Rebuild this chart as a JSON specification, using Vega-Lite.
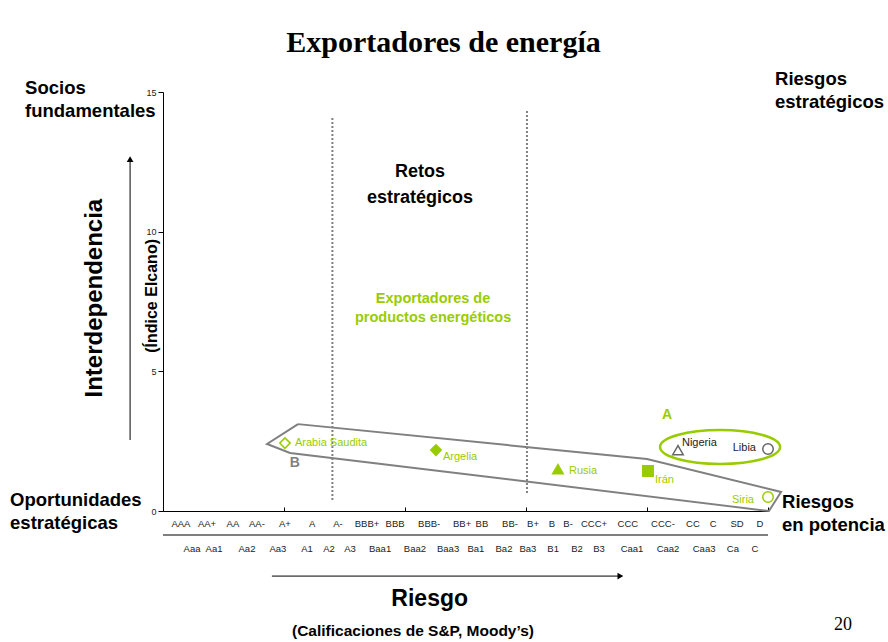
{
  "$schema": "https://vega.github.io/schema/vega-lite/v6.json",
  "width": 605,
  "height": 419,
  "autosize": {"type": "none"},
  "padding": {"left": 163, "top": 92, "right": 120, "bottom": 131},
  "background": "white",
  "title": {"text": "Exportadores de energía", "font": "Liberation Serif", "fontSize": 30, "fontWeight": "bold", "color": "#000000", "anchor": "middle", "dx": -22, "offset": 12},
  "config": {"view": {"stroke": null}, "font": "Liberation Sans"},
  "datasets": {
    "poligono": [
      {"orden": 1, "x": 5.58, "y": 3.11},
      {"orden": 2, "x": 20.0, "y": 1.86},
      {"orden": 3, "x": 25.54, "y": 0.68},
      {"orden": 4, "x": 25.04, "y": 0.0},
      {"orden": 5, "x": 5.25, "y": 2.08},
      {"orden": 6, "x": 4.3, "y": 2.4},
      {"orden": 7, "x": 5.58, "y": 3.11}
    ],
    "paises": [
      {"pais": "Arabia Saudita", "grupo": "B", "x": 5.04, "y": 2.43},
      {"pais": "Argelia", "grupo": "B", "x": 11.28, "y": 2.18},
      {"pais": "Rusia", "grupo": "B", "x": 16.32, "y": 1.5},
      {"pais": "Irán", "grupo": "B", "x": 20.04, "y": 1.43},
      {"pais": "Nigeria", "grupo": "A", "x": 21.28, "y": 2.18},
      {"pais": "Libia", "grupo": "A", "x": 25.0, "y": 2.22},
      {"pais": "Siria", "grupo": "B", "x": 25.0, "y": 0.5}
    ],
    "sp": [
      {"t": "AAA", "x": 0.74}, {"t": "AA+", "x": 1.82}, {"t": "AA", "x": 2.89}, {"t": "AA-", "x": 3.88},
      {"t": "A+", "x": 5.04}, {"t": "A", "x": 6.16}, {"t": "A-", "x": 7.23}, {"t": "BBB+", "x": 8.43},
      {"t": "BBB", "x": 9.59}, {"t": "BBB-", "x": 11.0}, {"t": "BB+", "x": 12.36}, {"t": "BB", "x": 13.18},
      {"t": "BB-", "x": 14.34}, {"t": "B+", "x": 15.29}, {"t": "B", "x": 16.07}, {"t": "B-", "x": 16.74},
      {"t": "CCC+", "x": 17.81}, {"t": "CCC", "x": 19.21}, {"t": "CCC-", "x": 20.66}, {"t": "CC", "x": 21.9},
      {"t": "C", "x": 22.73}, {"t": "SD", "x": 23.72}, {"t": "D", "x": 24.67}
    ],
    "moodys": [
      {"t": "Aaa", "x": 1.2}, {"t": "Aa1", "x": 2.11}, {"t": "Aa2", "x": 3.47}, {"t": "Aa3", "x": 4.75},
      {"t": "A1", "x": 5.95}, {"t": "A2", "x": 6.86}, {"t": "A3", "x": 7.73}, {"t": "Baa1", "x": 8.97},
      {"t": "Baa2", "x": 10.41}, {"t": "Baa3", "x": 11.78}, {"t": "Ba1", "x": 12.93}, {"t": "Ba2", "x": 14.09},
      {"t": "Ba3", "x": 15.08}, {"t": "B1", "x": 16.12}, {"t": "B2", "x": 17.11}, {"t": "B3", "x": 18.02},
      {"t": "Caa1", "x": 19.38}, {"t": "Caa2", "x": 20.87}, {"t": "Caa3", "x": 22.36}, {"t": "Ca", "x": 23.55},
      {"t": "C", "x": 24.46}
    ]
  },
  "layer": [
    {
      "data": {"name": "poligono"},
      "mark": {"type": "line", "color": "#808080", "strokeWidth": 2},
      "encoding": {
        "x": {"field": "x", "type": "quantitative", "title": null,
          "scale": {"domain": [0, 25], "nice": false, "zero": false},
          "axis": {"values": [0, 5, 10, 15, 20, 25], "labels": false, "tickSize": -4, "domainColor": "#000000", "tickColor": "#000000", "grid": false, "title": null}},
        "y": {"field": "y", "type": "quantitative", "title": null,
          "scale": {"domain": [0, 15], "nice": false, "zero": false},
          "axis": {"values": [0, 5, 10, 15], "tickSize": 5, "labelFontSize": 9, "labelColor": "#222222", "labelPadding": 2, "domainColor": "#000000", "tickColor": "#000000", "grid": false, "title": null}},
        "order": {"field": "orden", "type": "quantitative"}
      }
    },
    {
      "data": {"values": [{"x": 7.0, "y": 0.39, "y2": 14.07}, {"x": 15.04, "y": 0.64, "y2": 14.36}]},
      "mark": {"type": "rule", "color": "#808080", "strokeWidth": 2, "strokeDash": [2, 2]},
      "encoding": {
        "x": {"field": "x", "type": "quantitative", "title": null},
        "y": {"field": "y", "type": "quantitative", "title": null},
        "y2": {"field": "y2"}
      }
    },
    {
      "data": {"values": [{"x": 0, "x2": 25, "y": -0.86}]},
      "mark": {"type": "rule", "color": "#555555", "strokeWidth": 1.5},
      "encoding": {
        "x": {"field": "x", "type": "quantitative", "title": null},
        "x2": {"field": "x2"},
        "y": {"field": "y", "type": "quantitative", "title": null}
      }
    },
    {
      "data": {"values": [{"x": -1.36, "y": 2.54, "y2": 12.6}]},
      "mark": {"type": "rule", "color": "#000000", "strokeWidth": 1},
      "encoding": {
        "x": {"field": "x", "type": "quantitative", "title": null},
        "y": {"field": "y", "type": "quantitative", "title": null},
        "y2": {"field": "y2"}
      }
    },
    {
      "data": {"values": [{"x": -1.36, "y": 12.6}]},
      "mark": {"type": "point", "shape": "triangle-up", "filled": true, "color": "#000000", "size": 45, "opacity": 1},
      "encoding": {
        "x": {"field": "x", "type": "quantitative", "title": null},
        "y": {"field": "y", "type": "quantitative", "title": null}
      }
    },
    {
      "data": {"values": [{"x": 4.5, "x2": 18.9, "y": -2.33}]},
      "mark": {"type": "rule", "color": "#000000", "strokeWidth": 1},
      "encoding": {
        "x": {"field": "x", "type": "quantitative", "title": null},
        "x2": {"field": "x2"},
        "y": {"field": "y", "type": "quantitative", "title": null}
      }
    },
    {
      "data": {"values": [{"x": 18.9, "y": -2.33}]},
      "mark": {"type": "point", "shape": "triangle-right", "filled": true, "color": "#000000", "size": 45, "opacity": 1},
      "encoding": {
        "x": {"field": "x", "type": "quantitative", "title": null},
        "y": {"field": "y", "type": "quantitative", "title": null}
      }
    },
    {
      "data": {"values": [{"x": 23.02, "y": 2.29}]},
      "mark": {"type": "point", "shape": "M-1,0A1,0.283,0,1,0,1,0A1,0.283,0,1,0,-1,0Z", "filled": false, "stroke": "#99cc00", "strokeWidth": 2.5, "size": 14400, "opacity": 1},
      "encoding": {
        "x": {"field": "x", "type": "quantitative", "title": null},
        "y": {"field": "y", "type": "quantitative", "title": null}
      }
    },
    {
      "data": {"name": "paises"},
      "mark": {"type": "point", "strokeWidth": 1.5, "size": 110, "opacity": 1},
      "encoding": {
        "x": {"field": "x", "type": "quantitative", "title": null},
        "y": {"field": "y", "type": "quantitative", "title": null},
        "shape": {"field": "pais", "type": "nominal", "legend": null,
          "scale": {"domain": ["Arabia Saudita", "Argelia", "Rusia", "Irán", "Nigeria", "Libia", "Siria"],
            "range": ["diamond", "diamond", "triangle-up", "square", "triangle-up", "circle", "circle"]}},
        "fill": {"field": "pais", "type": "nominal", "legend": null,
          "scale": {"domain": ["Arabia Saudita", "Argelia", "Rusia", "Irán", "Nigeria", "Libia", "Siria"],
            "range": ["#ffffff", "#99cc00", "#99cc00", "#99cc00", "#ffffff", "#ffffff", "#ffffff"]}},
        "stroke": {"field": "grupo", "type": "nominal", "legend": null,
          "scale": {"domain": ["A", "B"], "range": ["#666666", "#99cc00"]}}
      }
    },
    {
      "data": {"name": "paises"},
      "transform": [{"filter": "datum.pais == 'Arabia Saudita'"}],
      "mark": {"type": "text", "align": "left", "baseline": "middle", "dx": 10, "dy": 0, "fontSize": 11, "color": "#99cc00"},
      "encoding": {"x": {"field": "x", "type": "quantitative", "title": null}, "y": {"field": "y", "type": "quantitative", "title": null}, "text": {"field": "pais"}}
    },
    {
      "data": {"name": "paises"},
      "transform": [{"filter": "datum.pais == 'Argelia'"}],
      "mark": {"type": "text", "align": "left", "baseline": "middle", "dx": 7, "dy": 7, "fontSize": 11, "color": "#99cc00"},
      "encoding": {"x": {"field": "x", "type": "quantitative", "title": null}, "y": {"field": "y", "type": "quantitative", "title": null}, "text": {"field": "pais"}}
    },
    {
      "data": {"name": "paises"},
      "transform": [{"filter": "datum.pais == 'Rusia'"}],
      "mark": {"type": "text", "align": "left", "baseline": "middle", "dx": 11, "dy": 2, "fontSize": 11, "color": "#99cc00"},
      "encoding": {"x": {"field": "x", "type": "quantitative", "title": null}, "y": {"field": "y", "type": "quantitative", "title": null}, "text": {"field": "pais"}}
    },
    {
      "data": {"name": "paises"},
      "transform": [{"filter": "datum.pais == 'Irán'"}],
      "mark": {"type": "text", "align": "left", "baseline": "middle", "dx": 7, "dy": 9, "fontSize": 11, "color": "#99cc00"},
      "encoding": {"x": {"field": "x", "type": "quantitative", "title": null}, "y": {"field": "y", "type": "quantitative", "title": null}, "text": {"field": "pais"}}
    },
    {
      "data": {"name": "paises"},
      "transform": [{"filter": "datum.pais == 'Nigeria'"}],
      "mark": {"type": "text", "align": "left", "baseline": "middle", "dx": 4, "dy": -7, "fontSize": 11, "color": "#222222"},
      "encoding": {"x": {"field": "x", "type": "quantitative", "title": null}, "y": {"field": "y", "type": "quantitative", "title": null}, "text": {"field": "pais"}}
    },
    {
      "data": {"name": "paises"},
      "transform": [{"filter": "datum.pais == 'Libia'"}],
      "mark": {"type": "text", "align": "right", "baseline": "middle", "dx": -12, "dy": -1, "fontSize": 11, "color": "#222222"},
      "encoding": {"x": {"field": "x", "type": "quantitative", "title": null}, "y": {"field": "y", "type": "quantitative", "title": null}, "text": {"field": "pais"}}
    },
    {
      "data": {"name": "paises"},
      "transform": [{"filter": "datum.pais == 'Siria'"}],
      "mark": {"type": "text", "align": "right", "baseline": "middle", "dx": -14, "dy": 3, "fontSize": 11, "color": "#99cc00"},
      "encoding": {"x": {"field": "x", "type": "quantitative", "title": null}, "y": {"field": "y", "type": "quantitative", "title": null}, "text": {"field": "pais"}}
    },
    {
      "data": {"name": "sp"},
      "mark": {"type": "text", "align": "center", "baseline": "middle", "fontSize": 9.5, "color": "#222222"},
      "encoding": {"x": {"field": "x", "type": "quantitative", "title": null}, "y": {"datum": -0.47, "type": "quantitative", "title": null}, "text": {"field": "t"}}
    },
    {
      "data": {"name": "moodys"},
      "mark": {"type": "text", "align": "center", "baseline": "middle", "fontSize": 9.5, "color": "#222222"},
      "encoding": {"x": {"field": "x", "type": "quantitative", "title": null}, "y": {"datum": -1.36, "type": "quantitative", "title": null}, "text": {"field": "t"}}
    },
    {
      "data": {"values": [
        {"t": "Socios\nfundamentales", "x": -5.7, "y": 15.14},
        {"t": "Riesgos\nestratégicos", "x": 25.29, "y": 15.47},
        {"t": "Oportunidades\nestratégicas", "x": -6.32, "y": 0.39},
        {"t": "Riesgos\nen potencia", "x": 25.58, "y": 0.32}
      ]},
      "mark": {"type": "text", "align": "left", "baseline": "middle", "lineBreak": "\n", "lineHeight": 23, "fontSize": 18.5, "fontWeight": "bold", "color": "#000000"},
      "encoding": {"x": {"field": "x", "type": "quantitative", "title": null}, "y": {"field": "y", "type": "quantitative", "title": null}, "text": {"field": "t"}}
    },
    {
      "data": {"values": [{"t": "Retos\nestratégicos", "x": 10.62, "y": 12.14}]},
      "mark": {"type": "text", "align": "center", "baseline": "middle", "lineBreak": "\n", "lineHeight": 26, "fontSize": 18, "fontWeight": "bold", "color": "#000000"},
      "encoding": {"x": {"field": "x", "type": "quantitative", "title": null}, "y": {"field": "y", "type": "quantitative", "title": null}, "text": {"field": "t"}}
    },
    {
      "data": {"values": [{"t": "Exportadores de\nproductos energéticos", "x": 11.16, "y": 7.6}]},
      "mark": {"type": "text", "align": "center", "baseline": "middle", "lineBreak": "\n", "lineHeight": 19, "fontSize": 14.5, "fontWeight": "bold", "color": "#99cc00"},
      "encoding": {"x": {"field": "x", "type": "quantitative", "title": null}, "y": {"field": "y", "type": "quantitative", "title": null}, "text": {"field": "t"}}
    },
    {
      "data": {"values": [{"t": "Interdependencia", "x": -2.81, "y": 7.62}]},
      "mark": {"type": "text", "align": "center", "baseline": "middle", "angle": 270, "fontSize": 24, "fontWeight": "bold", "color": "#000000"},
      "encoding": {"x": {"field": "x", "type": "quantitative", "title": null}, "y": {"field": "y", "type": "quantitative", "title": null}, "text": {"field": "t"}}
    },
    {
      "data": {"values": [{"t": "(Índice Elcano)", "x": -0.45, "y": 7.7}]},
      "mark": {"type": "text", "align": "center", "baseline": "middle", "angle": 270, "fontSize": 16, "fontWeight": "bold", "color": "#000000"},
      "encoding": {"x": {"field": "x", "type": "quantitative", "title": null}, "y": {"field": "y", "type": "quantitative", "title": null}, "text": {"field": "t"}}
    },
    {
      "data": {"values": [{"t": "Riesgo", "x": 11.02, "y": -3.15}]},
      "mark": {"type": "text", "align": "center", "baseline": "middle", "fontSize": 23, "fontWeight": "bold", "color": "#000000"},
      "encoding": {"x": {"field": "x", "type": "quantitative", "title": null}, "y": {"field": "y", "type": "quantitative", "title": null}, "text": {"field": "t"}}
    },
    {
      "data": {"values": [{"t": "(Calificaciones de S&P, Moody’s)", "x": 10.33, "y": -4.3}]},
      "mark": {"type": "text", "align": "center", "baseline": "middle", "fontSize": 15.5, "fontWeight": "bold", "color": "#000000"},
      "encoding": {"x": {"field": "x", "type": "quantitative", "title": null}, "y": {"field": "y", "type": "quantitative", "title": null}, "text": {"field": "t"}}
    },
    {
      "data": {"values": [{"t": "20", "x": 28.1, "y": -4.08}]},
      "mark": {"type": "text", "align": "center", "baseline": "middle", "font": "Liberation Serif", "fontSize": 18, "color": "#000000"},
      "encoding": {"x": {"field": "x", "type": "quantitative", "title": null}, "y": {"field": "y", "type": "quantitative", "title": null}, "text": {"field": "t"}}
    },
    {
      "data": {"values": [{"t": "A", "x": 20.83, "y": 3.44}]},
      "mark": {"type": "text", "align": "center", "baseline": "middle", "fontSize": 14, "fontWeight": "bold", "color": "#99cc00"},
      "encoding": {"x": {"field": "x", "type": "quantitative", "title": null}, "y": {"field": "y", "type": "quantitative", "title": null}, "text": {"field": "t"}}
    },
    {
      "data": {"values": [{"t": "B", "x": 5.45, "y": 1.72}]},
      "mark": {"type": "text", "align": "center", "baseline": "middle", "fontSize": 14, "fontWeight": "bold", "color": "#808080"},
      "encoding": {"x": {"field": "x", "type": "quantitative", "title": null}, "y": {"field": "y", "type": "quantitative", "title": null}, "text": {"field": "t"}}
    }
  ]
}
